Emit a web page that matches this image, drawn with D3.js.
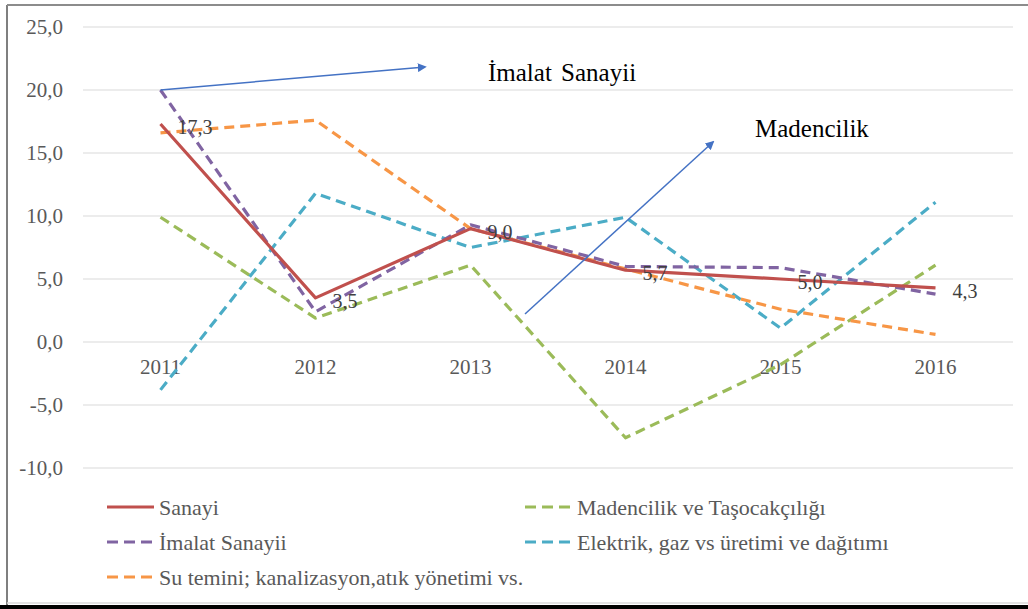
<!DOCTYPE html>
<html>
<head>
<meta charset="utf-8">
<script src="https://cdn.jsdelivr.net/npm/d3@7"></script>
<style>
  body { margin: 0; background: #fff; }
  svg text { font-family: "Liberation Serif", "Times New Roman", serif !important; }
</style>
</head>
<body>
<div id="plot"></div>
<script>
  // values
  const years = ["2011", "2012", "2013", "2014", "2015", "2016"];
  const sanayi = [17.3, 3.5, 9.0, 5.7, 5.0, 4.3];
  const imalat = [20.0, 2.4, 9.3, 6.0, 5.9, 3.8];
  const madencilik = [9.9, 1.9, 6.1, -7.6, -1.8, 6.1];
  const elektrik = [-3.8, 11.8, 7.5, 9.9, 1.1, 11.1];
  const suTemini = [16.6, 17.6, 9.0, 5.8, 2.6, 0.6];
  const yTicks = [-10, -5, 0, 5, 10, 15, 20, 25];

  const w = 1028;
  const h = 609;

  const series = [
    {name: "Sanayi", values: sanayi, color: "#C0504D", dash: null},
    {name: "Madencilik ve Taşocakçılığı", values: madencilik, color: "#9BBB59", dash: "10,6"},
    {name: "İmalat Sanayii", values: imalat, color: "#8064A2", dash: "10,6"},
    {name: "Elektrik, gaz vs üretimi ve dağıtımı", values: elektrik, color: "#4BACC6", dash: "10,6"},
    {name: "Su temini; kanalizasyon,atık yönetimi vs.", values: suTemini, color: "#F79646", dash: "10,6"}
  ];

  const locale = d3.formatLocale({decimal: ",", thousands: ".", grouping: [3], currency: ["", ""], minus: "-"});
  const fmt = locale.format(".1f");

  const svg = d3.select("div#plot")
      .append("svg")
      .attr("width", w)
      .attr("height", h);

  svg.append("rect")
      .attr("width", w)
      .attr("height", h)
      .attr("fill", "#fff");

  const xScale = d3.scaleBand()
      .domain(years)
      .range([83, 1013]);

  const yScale = d3.scaleLinear()
      .domain([-10, 25])
      .range([468, 27]);

  const cx = d => xScale(d) + xScale.bandwidth() / 2;

  // gridlines
  svg.append("g")
      .selectAll("line")
      .data(yTicks)
      .enter().append("line")
      .attr("x1", 83)
      .attr("x2", 1013)
      .attr("y1", d => yScale(d))
      .attr("y2", d => yScale(d))
      .attr("stroke", "#D9D9D9")
      .attr("stroke-width", 1.2);

  // y axis labels
  const yAxis = d3.axisLeft(yScale)
      .tickValues(yTicks)
      .tickFormat(fmt)
      .tickSize(0)
      .tickPadding(20);

  svg.append("g")
      .attr("class", "yAxis")
      .attr("transform", "translate(83,0)")
      .call(yAxis)
      .call(g => g.select(".domain").remove())
      .call(g => g.selectAll("text")
          .style("font-size", "21px")
          .attr("fill", "#595959"));

  // x axis labels on zero line
  const xAxis = d3.axisBottom(xScale)
      .tickSize(0)
      .tickPadding(17);

  svg.append("g")
      .attr("class", "xAxis")
      .attr("transform", `translate(0, ${yScale(0)})`)
      .call(xAxis)
      .call(g => g.select(".domain").remove())
      .call(g => g.selectAll("text")
          .style("font-size", "21px")
          .attr("fill", "#595959"));

  const line = d3.line()
      .x((d, i) => cx(years[i]))
      .y(d => yScale(d));

  const drawOrder = [1, 3, 4, 2, 0];
  drawOrder.forEach(k => {
    const s = series[k];
    svg.append("path")
        .datum(s.values)
        .attr("fill", "none")
        .attr("stroke", s.color)
        .attr("stroke-width", 3.2)
        .attr("stroke-dasharray", s.dash)
        .attr("stroke-linejoin", "round")
        .attr("d", line);
  });

  // data labels for Sanayi
  svg.append("g")
      .selectAll("text")
      .data(sanayi)
      .enter().append("text")
      .attr("x", (d, i) => cx(years[i]) + 17)
      .attr("y", d => yScale(d) + 3)
      .attr("dy", "0.35em")
      .style("font-size", "20px")
      .attr("fill", "#404040")
      .text(d => fmt(d));

  // arrows
  const defs = svg.append("defs");
  defs.append("marker")
      .attr("id", "arrow")
      .attr("viewBox", "0 0 10 10")
      .attr("refX", 8)
      .attr("refY", 5)
      .attr("markerWidth", 6)
      .attr("markerHeight", 6)
      .attr("orient", "auto")
      .append("path")
      .attr("d", "M0,0 L10,5 L0,10 z")
      .attr("fill", "#4472C4");

  svg.append("line")
      .attr("x1", cx("2011")).attr("y1", yScale(20))
      .attr("x2", 425).attr("y2", 67)
      .attr("stroke", "#4472C4")
      .attr("stroke-width", 1.5)
      .attr("marker-end", "url(#arrow)");

  svg.append("line")
      .attr("x1", 525).attr("y1", 314)
      .attr("x2", 713).attr("y2", 142)
      .attr("stroke", "#4472C4")
      .attr("stroke-width", 1.5)
      .attr("marker-end", "url(#arrow)");

  svg.append("text")
      .attr("x", 488)
      .attr("y", 81)
      .style("font-size", "25px")
      .style("word-spacing", "3px")
      .attr("fill", "#000")
      .text("İmalat Sanayii");

  svg.append("text")
      .attr("x", 755)
      .attr("y", 137)
      .style("font-size", "25px")
      .attr("fill", "#000")
      .text("Madencilik");

  // legend
  const legendPos = [
    {x: 107, y: 507}, {x: 525, y: 507},
    {x: 107, y: 542}, {x: 525, y: 542},
    {x: 107, y: 577}
  ];
  const legend = svg.append("g")
      .selectAll("g")
      .data(series)
      .enter().append("g")
      .attr("transform", (d, i) => `translate(${legendPos[i].x}, ${legendPos[i].y})`);

  legend.append("line")
      .attr("x1", 0).attr("x2", 47)
      .attr("stroke", d => d.color)
      .attr("stroke-width", 3.2)
      .attr("stroke-dasharray", d => d.dash ? "11,6" : null);

  legend.append("text")
      .attr("x", 52)
      .attr("dy", "0.35em")
      .style("font-size", "22px")
      .attr("fill", "#595959")
      .text(d => d.name);

  // frame
  svg.append("line")
      .attr("x1", 7).attr("x2", 7).attr("y1", 5).attr("y2", 605)
      .attr("stroke", "#7F7F7F").attr("stroke-width", 2);
  svg.append("line")
      .attr("x1", 7).attr("x2", w).attr("y1", 5).attr("y2", 5)
      .attr("stroke", "#8C8C8C").attr("stroke-width", 2);
  svg.append("line")
      .attr("x1", 7).attr("x2", w).attr("y1", 603).attr("y2", 603)
      .attr("stroke", "#D9D9D9").attr("stroke-width", 1.5);
  svg.append("rect")
      .attr("x", 0).attr("y", 605).attr("width", w).attr("height", 4)
      .attr("fill", "#000");
</script>
</body>
</html>
